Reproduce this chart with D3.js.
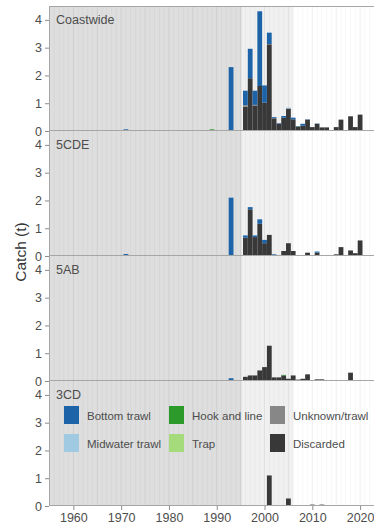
<!DOCTYPE html>
<html>
<head>
<meta charset="utf-8">
<script src="https://cdn.jsdelivr.net/npm/d3@7"></script>
<style>
  body { margin: 0; background: #fff; }
  svg { display: block; font-family: "Liberation Sans", Arial, sans-serif; }
</style>
</head>
<body>
<svg class="chart"></svg>
<script>
// catch by gear, one panel per area (values in tonnes)

var years = [1971, 1989, 1993, 1995, 1996, 1997, 1998, 1999, 2000, 2001, 2002, 2003, 2004, 2005,
  2006, 2007, 2008, 2009, 2010, 2011, 2012, 2013, 2014, 2015, 2016, 2017, 2018, 2019, 2020];

var gears = ["Bottom trawl", "Midwater trawl", "Hook and line", "Trap", "Unknown/trawl", "Discarded"];
var gearColors = ["#1d63a8", "#9fcae2", "#2c9a2a", "#a6db7c", "#878787", "#383838"];
var areas = ["Coastwide", "5CDE", "5AB", "3CD"];

var yTicks = [0, 1, 2, 3, 4];
var xTicks = [1960, 1970, 1980, 1990, 2000, 2010, 2020];

//Coastwide
var coastBottom   = [0.06, 0, 2.30, 0, 0.52, 1.06, 0.51, 2.69, 0.62, 0.41, 0.03, 0.02, 0.06, 0, 0.06, 0.01, 0.07, 0.01, 0, 0.01, 0, 0, 0, 0, 0, 0, 0, 0, 0];
var coastMidwater = [0, 0, 0, 0, 0, 0, 0, 0, 0, 0, 0.01, 0, 0, 0.03, 0, 0, 0, 0, 0, 0, 0, 0, 0, 0, 0, 0, 0, 0, 0];
var coastHook     = [0, 0.06, 0, 0.02, 0, 0, 0, 0, 0, 0, 0, 0, 0, 0, 0, 0.01, 0, 0, 0, 0, 0, 0, 0, 0, 0, 0, 0, 0, 0];
var coastUnknown  = [0, 0, 0, 0, 0.06, 0, 0.02, 0, 0, 0.01, 0, 0, 0, 0, 0, 0, 0, 0, 0, 0, 0, 0, 0, 0, 0, 0, 0, 0, 0];
var coastDiscard  = [0, 0, 0, 0, 0.87, 1.90, 0.92, 1.62, 1.02, 3.12, 0.46, 0.26, 0.48, 0.81, 0.42, 0.16, 0.19, 0.41, 0.14, 0.26, 0.13, 0.13, 0.02, 0.14, 0.41, 0.03, 0.53, 0.14, 0.59];

//5CDE
var cdeBottom  = [0.07, 0, 2.10, 0, 0.08, 0.08, 0.06, 0.16, 0.12, 0, 0.06, 0, 0, 0, 0, 0, 0, 0, 0, 0.04, 0, 0, 0, 0, 0, 0, 0, 0, 0];
var cdeHook    = [0, 0, 0, 0.01, 0, 0, 0, 0, 0, 0, 0, 0, 0, 0, 0, 0.03, 0, 0, 0, 0, 0, 0, 0, 0, 0, 0, 0, 0, 0];
var cdeDiscard = [0, 0, 0, 0, 0.66, 1.68, 0.68, 1.16, 0.46, 0.76, 0, 0, 0.18, 0.46, 0.18, 0, 0, 0.12, 0, 0.12, 0, 0, 0, 0.06, 0.32, 0, 0.20, 0.10, 0.56];

//5AB
var abBottom  = [0, 0, 0.10, 0, 0, 0, 0, 0, 0, 0, 0, 0, 0, 0, 0, 0, 0, 0, 0, 0, 0, 0, 0, 0, 0, 0, 0, 0, 0];
var abHook    = [0, 0, 0, 0, 0, 0, 0, 0, 0, 0, 0, 0, 0.02, 0, 0, 0, 0, 0, 0, 0, 0, 0, 0, 0, 0, 0, 0, 0, 0];
var abUnknown = [0, 0, 0, 0, 0, 0, 0, 0, 0, 0, 0, 0, 0, 0, 0, 0, 0, 0, 0, 0, 0, 0, 0.02, 0.02, 0, 0, 0, 0, 0];
var abDiscard = [0, 0, 0, 0, 0.15, 0.20, 0.20, 0.38, 0.50, 1.27, 0.13, 0.13, 0.20, 0.08, 0.20, 0.05, 0.08, 0.24, 0, 0.06, 0.06, 0, 0, 0, 0, 0, 0.30, 0, 0];

//3CD
var cdDiscard = [0, 0, 0, 0, 0.02, 0, 0.02, 0.02, 0, 1.10, 0, 0.03, 0, 0.27, 0, 0, 0.02, 0, 0.05, 0, 0.05, 0, 0, 0, 0, 0, 0, 0, 0];

var Chart = (function(){

  var that = {},
    svg,
    xScale,
    yScale,
    width = 374,
    height = 527,
    margin = {top: 6, left: 49, right: 0},
    panelH = 125,
    shadeDark = 1995.25,
    shadeLight = 2006;

  //gear -> array for every area
  var areaData = {
    "Coastwide": {"Bottom trawl": coastBottom, "Midwater trawl": coastMidwater, "Hook and line": coastHook, "Unknown/trawl": coastUnknown, "Discarded": coastDiscard},
    "5CDE": {"Bottom trawl": cdeBottom, "Hook and line": cdeHook, "Discarded": cdeDiscard},
    "5AB": {"Bottom trawl": abBottom, "Hook and line": abHook, "Unknown/trawl": abUnknown, "Discarded": abDiscard},
    "3CD": {"Discarded": cdDiscard}
  };

  function initialize(){
    svg = d3.select(".chart")
            .attr("width", width)
            .attr("height", height);

    xScale = d3.scaleLinear()
               .domain([1954.9, 2022.7])
               .range([margin.left, 373]);
    yScale = d3.scaleLinear()
               .domain([0, 4.5])
               .range([panelH, 0]);

    areas.forEach(function(area, i){
      makePanel(area, margin.top + i * panelH, i === areas.length - 1);
    });

    makeLegend(margin.top + 3 * panelH);

    svg.append("text")
       .attr("transform", "translate(26," + 252 + ") rotate(-90)")
       .attr("text-anchor", "middle")
       .attr("font-size", 15.5)
       .attr("fill", "#333")
       .text("Catch (t)");
  }

  function makeRows(area){
    var table = areaData[area];
    return years.map(function(yr, j){
      var row = {year: yr};
      gears.forEach(function(gear){
        row[gear] = table[gear] ? table[gear][j] : 0;
      });
      return row;
    });
  }

  function makePanel(area, top, isLast){
    var g = svg.append("g")
               .attr("transform", "translate(0," + top + ")");
    var x0 = margin.left, x1 = width;

    g.append("rect")
     .attr("x", x0).attr("y", 0)
     .attr("width", x1 - x0).attr("height", panelH)
     .attr("fill", "#fff");

    //shaded periods
    g.append("rect")
     .attr("x", x0).attr("y", 0)
     .attr("width", xScale(shadeDark) - x0).attr("height", panelH)
     .attr("fill", "#dedede");
    g.append("rect")
     .attr("x", xScale(shadeDark)).attr("y", 0)
     .attr("width", xScale(shadeLight) - xScale(shadeDark)).attr("height", panelH)
     .attr("fill", "#f0f0f0");

    //year grid
    var gridYears = d3.range(1955, 2023);
    g.selectAll(".grid")
     .data(gridYears)
     .enter().append("line")
     .attr("x1", function(d){ return xScale(d); })
     .attr("x2", function(d){ return xScale(d); })
     .attr("y1", 0).attr("y2", panelH)
     .attr("stroke", function(d){ return d % 5 === 0 ? "rgba(0,0,0,0.07)" : "rgba(0,0,0,0.03)"; })
     .attr("stroke-width", 1);

    //stacked bars, first gear on top
    var stack = d3.stack().keys(gears.slice().reverse());
    var series = stack(makeRows(area));

    g.selectAll(".layer")
     .data(series)
     .enter().append("g")
     .attr("fill", function(d){ return gearColors[gears.indexOf(d.key)]; })
     .selectAll("rect")
     .data(function(d){ return d.filter(function(p){ return p[1] - p[0] > 0; }); })
     .enter().append("rect")
     .attr("x", function(d){ return xScale(d.data.year - 0.5); })
     .attr("width", function(d){ return xScale(d.data.year + 0.5) - xScale(d.data.year - 0.5); })
     .attr("y", function(d){ return yScale(d[1]); })
     .attr("height", function(d){ return yScale(d[0]) - yScale(d[1]); });

    g.append("text")
     .attr("x", 56).attr("y", 18)
     .attr("font-size", 12.5)
     .attr("fill", "#4d4d4d")
     .text(area);

    //borders
    g.append("line")
     .attr("x1", x0).attr("x2", x1)
     .attr("y1", panelH - 0.5).attr("y2", panelH - 0.5)
     .attr("stroke", "#a6a6a6");
    if(top === margin.top){
      g.append("line")
       .attr("x1", x0).attr("x2", x1)
       .attr("y1", 0.5).attr("y2", 0.5)
       .attr("stroke", "#a6a6a6");
    }
    g.append("line")
     .attr("x1", x0 + 0.5).attr("x2", x0 + 0.5)
     .attr("y1", 0).attr("y2", panelH)
     .attr("stroke", "#a6a6a6");

    var yAxis = g.append("g")
                 .attr("transform", "translate(" + x0 + ",0)")
                 .call(d3.axisLeft(yScale).tickValues(yTicks).tickFormat(d3.format("d")).tickSize(4).tickPadding(3));
    styleAxis(yAxis);

    if(isLast){
      var xAxis = g.append("g")
                   .attr("transform", "translate(0," + panelH + ")")
                   .call(d3.axisBottom(xScale).tickValues(xTicks).tickFormat(d3.format("d")).tickSize(4).tickPadding(3));
      styleAxis(xAxis);
    }
  }

  function styleAxis(ax){
    ax.select(".domain").remove();
    ax.selectAll(".tick line").attr("stroke", "#8c8c8c");
    ax.selectAll(".tick text")
      .attr("font-size", 12.5)
      .attr("font-family", "Liberation Sans, Arial, sans-serif")
      .attr("fill", "#4d4d4d");
  }

  //legend in bottom panel, three columns of two
  function makeLegend(top){
    var colX = [64, 169, 270],
      rowY = [top + 25, top + 53];

    var item = svg.selectAll(".legend")
                  .data(gears)
                  .enter().append("g")
                  .attr("class", "legend")
                  .attr("transform", function(d, i){
                    return "translate(" + colX[Math.floor(i / 2)] + "," + rowY[i % 2] + ")";
                  });

    item.append("rect")
        .attr("width", 15)
        .attr("height", 18)
        .attr("fill", function(d, i){ return gearColors[i]; });

    item.append("text")
        .attr("x", 23)
        .attr("y", 13.5)
        .attr("font-size", 11.5)
        .attr("fill", "#4d4d4d")
        .text(function(d){ return d; });
  }

  that.init = initialize;
  return that;

})();

Chart.init();
</script>
</body>
</html>
